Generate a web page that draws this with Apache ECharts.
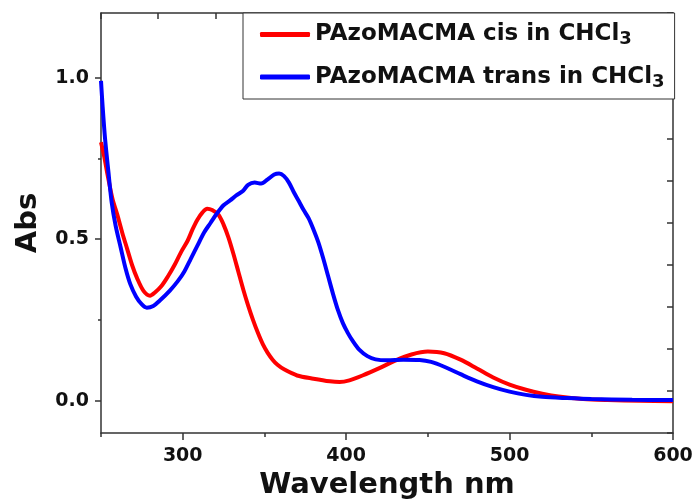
<!DOCTYPE html>
<html>
<head>
<meta charset="utf-8">
<script src="https://cdn.jsdelivr.net/npm/echarts@6/dist/echarts.min.js"></script>
<style>
	html, body { margin: 0; padding: 0; background: #fff; }
	#chart { width: 697px; height: 500px; }
</style>
</head>
<body>
<div id="chart"></div>
<script>
	// cis spectrum (red)
	var cisWl = [250, 252, 254, 257, 260, 263, 266, 269, 272, 276, 280, 283, 287, 291, 295, 299, 303, 306, 309, 312, 315, 318, 322, 325, 328, 331, 334, 337, 340, 343, 346, 349, 352, 355, 358, 362, 370, 380, 390, 396, 402, 410, 420, 430, 440, 450, 460, 470, 480, 490, 500, 510, 520, 530, 545, 560, 580, 600]
	var cisAbs = [0.80, 0.755, 0.70, 0.625, 0.575, 0.52, 0.47, 0.42, 0.38, 0.34, 0.325, 0.335, 0.355, 0.385, 0.42, 0.46, 0.495, 0.53, 0.56, 0.582, 0.594, 0.59, 0.575, 0.545, 0.505, 0.455, 0.40, 0.345, 0.295, 0.25, 0.21, 0.175, 0.148, 0.127, 0.111, 0.097, 0.078, 0.068, 0.06, 0.058, 0.063, 0.078, 0.10, 0.124, 0.143, 0.152, 0.147, 0.127, 0.10, 0.072, 0.05, 0.034, 0.022, 0.013, 0.005, 0.002, 0.0, -0.002]
	// trans spectrum (blue)
	var transWl = [250, 251, 252.5, 254.5, 256.5, 259, 262, 265, 268, 271.5, 275, 278, 282, 286, 292, 297, 301, 305, 309, 313, 317, 321, 325, 329, 333, 337, 340, 344, 348, 352, 356, 359, 362, 365, 368, 371, 374, 377, 380, 383, 386, 389, 392, 395, 398, 401, 404, 408, 413, 418, 425, 435, 445, 452, 460, 470, 480, 490, 500, 510, 520, 535, 550, 575, 600]
	var transAbs = [0.99, 0.91, 0.81, 0.71, 0.615, 0.54, 0.475, 0.41, 0.36, 0.322, 0.298, 0.288, 0.293, 0.31, 0.34, 0.37, 0.40, 0.44, 0.48, 0.52, 0.55, 0.58, 0.605, 0.62, 0.636, 0.65, 0.668, 0.675, 0.672, 0.685, 0.70, 0.703, 0.695, 0.675, 0.645, 0.618, 0.59, 0.565, 0.53, 0.49, 0.44, 0.385, 0.33, 0.28, 0.24, 0.21, 0.185, 0.158, 0.138, 0.128, 0.125, 0.127, 0.126, 0.12, 0.105, 0.082, 0.06, 0.042, 0.028, 0.018, 0.012, 0.008, 0.005, 0.003, 0.002]

	var seriesNames = ['PAzoMACMA cis in CHCl3', 'PAzoMACMA trans in CHCl3']
	var xMajor = [300, 400, 500, 600]
	var xMinor = [250, 350, 450, 550]
	var yMajor = [0, 0.5, 1.0]
	var yMinor = [0.25, 0.75]

	function pairs(xs, ys) {
		return xs.map(function (x, i) { return [x, ys[i]] })
	}

	var font = '"DejaVu Sans", Arial, sans-serif'
	var axisColor = '#333'

	var chart = echarts.init(document.getElementById('chart'))
	chart.setOption({
		animation: false,
		grid: { left: 101, right: 24, top: 13, bottom: 67, outerBoundsMode: 'none' },
		legend: {
			data: seriesNames,
			orient: 'vertical',
			left: 243,
			top: 13,
			padding: [10, 10, 8, 17],
			itemGap: 17,
			itemWidth: 50,
			itemHeight: 5,
			icon: 'roundRect',
			borderColor: axisColor,
			borderWidth: 1,
			backgroundColor: '#fff',
			formatter: function (name) {
				return '{t|' + name.replace(/3$/, '') + '}{s|3}'
			},
			textStyle: {
				rich: {
					t: { fontFamily: font, fontWeight: 'bold', fontSize: 23, color: '#111' },
					s: { fontFamily: font, fontWeight: 'bold', fontSize: 18, color: '#111', padding: [10, 0, 0, 0] }
				}
			}
		},
		xAxis: [{
			type: 'value',
			min: 250,
			max: 600,
			position: 'bottom',
			name: 'Wavelength nm',
			nameLocation: 'middle',
			nameGap: 34,
			nameTextStyle: { fontFamily: font, fontWeight: 'bold', fontSize: 29, color: '#111' },
			splitLine: { show: false },
			axisLine: { onZero: false, lineStyle: { color: axisColor, width: 1.5 } },
			axisTick: { customValues: xMajor, length: 7, lineStyle: { color: axisColor, width: 1.5 } },
			axisLabel: { customValues: xMajor, margin: 14, fontFamily: font, fontWeight: 'bold', fontSize: 19, color: '#111' }
		}, {
			// minor ticks on the bottom axis
			type: 'value',
			min: 250,
			max: 600,
			position: 'bottom',
			splitLine: { show: false },
			axisLine: { show: false, onZero: false },
			axisLabel: { show: false },
			axisTick: { customValues: xMinor, length: 4, lineStyle: { color: axisColor, width: 1.5 } }
		}, {
			// top frame, 10 divisions
			type: 'value',
			min: 0,
			max: 10,
			interval: 1,
			position: 'top',
			splitLine: { show: false },
			axisLabel: { show: false },
			axisLine: { onZero: false, lineStyle: { color: axisColor, width: 1.5 } },
			axisTick: { inside: true, length: 6, lineStyle: { color: axisColor, width: 1.5 } }
		}],
		yAxis: [{
			type: 'value',
			min: -0.1,
			max: 1.2,
			position: 'left',
			name: 'Abs',
			nameLocation: 'middle',
			nameGap: 58,
			nameTextStyle: { fontFamily: font, fontWeight: 'bold', fontSize: 29, color: '#111' },
			splitLine: { show: false },
			axisLine: { show: true, onZero: false, lineStyle: { color: axisColor, width: 1.5 } },
			axisTick: { show: true, customValues: yMajor, length: 6, lineStyle: { color: axisColor, width: 1.5 } },
			axisLabel: {
				customValues: yMajor, margin: 12, fontFamily: font, fontWeight: 'bold', fontSize: 19, color: '#111',
				formatter: function (v) { return v.toFixed(1) }
			}
		}, {
			// minor ticks on the left axis
			type: 'value',
			min: -0.1,
			max: 1.2,
			position: 'left',
			splitLine: { show: false },
			axisLine: { show: false, onZero: false },
			axisLabel: { show: false },
			axisTick: { show: true, customValues: yMinor, length: 3, lineStyle: { color: axisColor, width: 1.5 } }
		}, {
			// right frame, 10 divisions
			type: 'value',
			min: 0,
			max: 10,
			interval: 1,
			position: 'right',
			splitLine: { show: false },
			axisLabel: { show: false },
			axisLine: { show: true, onZero: false, lineStyle: { color: axisColor, width: 1.5 } },
			axisTick: { show: true, inside: true, length: 6, lineStyle: { color: axisColor, width: 1.5 } }
		}],
		series: [{
			name: seriesNames[0],
			type: 'line',
			smooth: 0.3,
			showSymbol: false,
			symbol: 'none',
			color: '#ff0000',
			lineStyle: { color: '#ff0000', width: 4 },
			data: pairs(cisWl, cisAbs)
		}, {
			name: seriesNames[1],
			type: 'line',
			smooth: 0.3,
			showSymbol: false,
			symbol: 'none',
			color: '#0000ff',
			lineStyle: { color: '#0000ff', width: 4 },
			data: pairs(transWl, transAbs)
		}]
	})
</script>
</body>
</html>
